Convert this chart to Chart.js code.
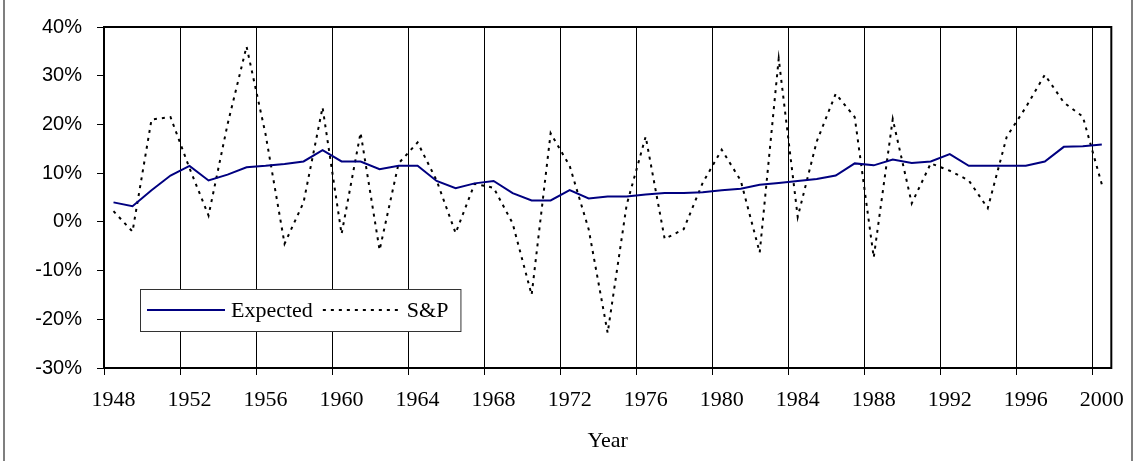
<!DOCTYPE html>
<html>
<head>
<meta charset="utf-8">
<script src="https://cdn.jsdelivr.net/npm/chart.js@4.4.1/dist/chart.umd.min.js"></script>
<style>
  html, body { margin: 0; padding: 0; background: #fff; }
  #wrap { width: 1136px; height: 461px; position: relative; }
</style>
</head>
<body>
<div id="wrap"><canvas id="returnsChart"></canvas></div>
<script>
// Expected return vs. S&P realised return, 1948-2000 (%)
const years = ['1948', '1949', '1950', '1951', '1952', '1953', '1954', '1955', '1956', '1957',
    '1958', '1959', '1960', '1961', '1962', '1963', '1964', '1965', '1966', '1967',
    '1968', '1969', '1970', '1971', '1972', '1973', '1974', '1975', '1976', '1977',
    '1978', '1979', '1980', '1981', '1982', '1983', '1984', '1985', '1986', '1987',
    '1988', '1989', '1990', '1991', '1992', '1993', '1994', '1995', '1996', '1997',
    '1998', '1999', '2000'];

const expected = [4.0, 3.2, 6.5, 9.5, 11.5, 8.5, 9.7, 11.2, 11.5, 11.9,
    12.4, 14.7, 12.4, 12.4, 10.8, 11.5, 11.5, 8.4, 6.9, 7.9,
    8.4, 5.9, 4.4, 4.4, 6.5, 4.8, 5.2, 5.2, 5.6, 5.9,
    5.9, 6.1, 6.5, 6.8, 7.6, 8.0, 8.4, 8.8, 9.5, 12.0,
    11.6, 12.8, 12.1, 12.4, 13.9, 11.5, 11.5, 11.5, 11.5, 12.4,
    15.4, 15.5, 15.9];

const sp = [2.2, -2.0, 21.0, 21.5, 11.0, 1.3, 20.0, 36.0, 18.0, -4.5,
    4.0, 23.5, -2.5, 18.3, -5.8, 12.0, 16.3, 8.5, -2.3, 7.8,
    7.0, -0.3, -15.0, 18.2, 11.5, -1.5, -22.8, 3.5, 17.5, -3.5,
    -1.5, 8.0, 14.8, 8.5, -6.3, 33.5, 1.0, 16.5, 26.3, 21.5,
    -7.3, 21.1, 3.8, 12.0, 10.5, 8.5, 2.8, 17.5, 23.5, 30.2,
    24.5, 21.6, 7.7];

const yMin = -30;
const yMax = 40;
const yStep = 10;
const labelEvery = 4;

const serif = "'Liberation Serif', 'Times New Roman', serif";
const sans = "'Liberation Sans', Arial, sans-serif";

// white page plus the thin outer frame that is cut at top and bottom
const pageFrame = {
    id: 'pageFrame',
    beforeDraw(chart) {
        const { ctx, width, height } = chart;
        ctx.save();
        ctx.fillStyle = '#fff';
        ctx.fillRect(0, 0, width, height);
        ctx.strokeStyle = '#555';
        ctx.lineWidth = 1.5;
        ctx.beginPath();
        ctx.moveTo(4, 0); ctx.lineTo(4, height);
        ctx.moveTo(1132, 0); ctx.lineTo(1132, height);
        ctx.stroke();
        ctx.restore();
    },
    afterDatasetsDraw(chart) {
        const { ctx, chartArea: a } = chart;
        ctx.save();
        ctx.strokeStyle = '#000';
        ctx.lineWidth = 2;
        ctx.strokeRect(a.left, a.top, a.right - a.left, a.bottom - a.top);
        ctx.restore();
    }
};

// boxed legend sitting inside the plot, lower left
const boxLegend = {
    id: 'boxLegend',
    afterDraw(chart) {
        const { ctx } = chart;
        const sets = chart.data.datasets;
        const boxX = 140, boxY = 289, boxH = 42;
        const sample = 78;
        ctx.save();
        ctx.font = '22px ' + serif;
        let w = 7;
        sets.forEach((ds, i) => {
            w += sample + 6 + ctx.measureText(ds.label).width + (i < sets.length - 1 ? 10 : 12);
        });
        ctx.fillStyle = '#fff';
        ctx.fillRect(boxX, boxY, w, boxH);
        ctx.strokeStyle = '#333';
        ctx.lineWidth = 1;
        ctx.strokeRect(boxX + 0.5, boxY + 0.5, w, boxH);
        let x = boxX + 7;
        const cy = boxY + boxH / 2;
        sets.forEach((ds) => {
            ctx.strokeStyle = ds.borderColor;
            ctx.lineWidth = ds.borderWidth;
            ctx.setLineDash(ds.borderDash || []);
            ctx.beginPath();
            ctx.moveTo(x, cy);
            ctx.lineTo(x + sample, cy);
            ctx.stroke();
            ctx.setLineDash([]);
            x += sample + 6;
            ctx.fillStyle = '#000';
            ctx.textBaseline = 'middle';
            ctx.textAlign = 'left';
            ctx.fillText(ds.label, x, cy + 1);
            x += ctx.measureText(ds.label).width + 10;
        });
        ctx.restore();
    }
};

const ctx = document.getElementById('returnsChart');
new Chart(ctx, {
    type: 'line',
    data: {
        labels: years,
        datasets: [
            {
                label: 'Expected',
                data: expected,
                borderColor: '#000080',
                borderWidth: 2,
                pointRadius: 0,
                tension: 0,
                fill: false
            },
            {
                label: 'S&P',
                data: sp,
                borderColor: '#000',
                borderWidth: 2,
                borderDash: [3, 5],
                pointRadius: 0,
                tension: 0,
                fill: false
            }
        ]
    },
    options: {
        responsive: true,
        maintainAspectRatio: false,
        animation: false,
        layout: { padding: { left: 0, right: 20, top: 20, bottom: 0 } },
        plugins: {
            legend: { display: false },
            tooltip: { enabled: false }
        },
        scales: {
            x: {
                type: 'category',
                offset: true,
                border: { display: false },
                grid: {
                    offset: true,
                    drawOnChartArea: true,
                    tickLength: 7,
                    lineWidth: 1,
                    color: (c) => (c.index % labelEvery === 0 ? '#000' : 'rgba(0,0,0,0)'),
                    tickColor: (c) => (c.index % labelEvery === 0 ? '#000' : 'rgba(0,0,0,0)')
                },
                ticks: {
                    autoSkip: false,
                    maxRotation: 0,
                    padding: 12,
                    color: '#000',
                    font: { family: serif, size: 22 },
                    callback: function (v, i) {
                        return i % labelEvery === 0 ? this.getLabelForValue(v) : '';
                    }
                },
                title: {
                    display: true,
                    text: 'Year',
                    color: '#000',
                    font: { family: serif, size: 22 },
                    padding: { top: 0, bottom: 7 }
                },
                afterFit: (s) => { s.height = 93; }
            },
            y: {
                min: yMin,
                max: yMax,
                border: { display: false },
                grid: {
                    drawOnChartArea: false,
                    tickLength: 7,
                    tickColor: '#000'
                },
                ticks: {
                    stepSize: yStep,
                    padding: 15,
                    color: '#000',
                    font: { family: sans, size: 20 },
                    callback: (v) => v + '%'
                },
                afterFit: (s) => { s.width = 104; }
            }
        }
    },
    plugins: [pageFrame, boxLegend]
});
</script>
</body>
</html>
